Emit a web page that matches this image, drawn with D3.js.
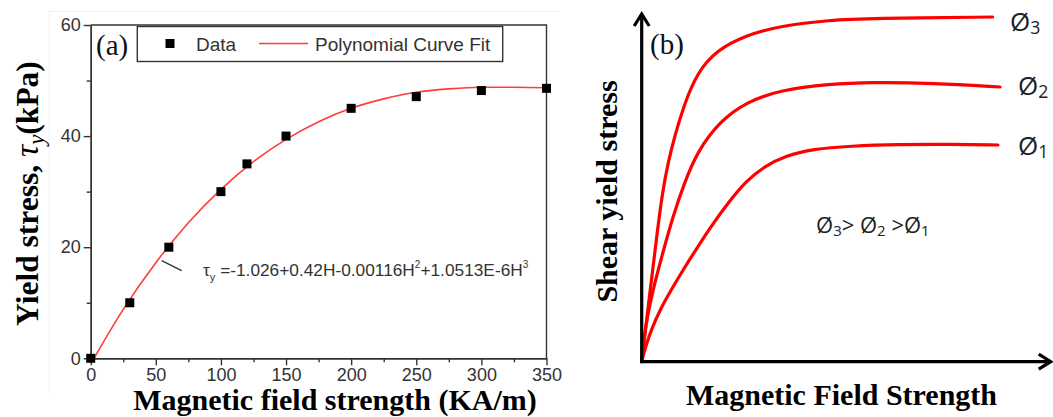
<!DOCTYPE html>
<html>
<head>
<meta charset="utf-8">
<script src="https://cdn.jsdelivr.net/npm/d3@7"></script>
<style>
  html, body { margin: 0; padding: 0; background: #fff; }
  svg { display: block; }
</style>
</head>
<body>
<div id="chart"></div>
<script>
// (a) measured yield stress vs magnetic field + polynomial fit
// (b) schematic: shear yield stress vs field for three volume fractions

const fieldData  = [0, 30, 60, 100, 120, 150, 200, 250, 300, 350];
const stressData = [0, 10, 20, 30, 35, 40, 45, 47.1, 48.2, 48.6];

// fit curve
const fitField  = [2.5, 25, 50, 75, 100, 125, 150, 175, 200, 225, 250, 275, 300, 325, 350];
const fitStress = [0, 8.8, 17.2, 24.4, 30.4, 35.4, 39.4, 42.6, 45.0, 46.7, 47.9, 48.5, 48.8, 48.8, 48.7];

const xTicks      = [0, 50, 100, 150, 200, 250, 300, 350];
const xMinorTicks = [25, 75, 125, 175, 225, 275, 325];
const yTicks      = [0, 20, 40, 60];
const yMinorTicks = [10, 30, 50];

// (b) sketch curves, arbitrary units 0..100
const phi1X = [0, 1.05, 2.51, 4.46, 6.90, 10.07, 13.49, 17.15, 21.05, 25.44, 30.07, 34.95, 41.78, 50.8, 63.0, 75.2, 86.9];
const phi1Y = [0, 4.79, 9.66, 14.83, 19.99, 26.30, 32.61, 39.20, 45.51, 51.82, 56.12, 58.99, 61.00, 61.86, 62.29, 62.35, 62.15];
const phi2X = [0, 0.56, 1.41, 2.76, 4.46, 7.71, 10.32, 13.49, 19.10, 25.61, 33.71, 45.93, 55.68, 71.05, 87.39];
const phi2Y = [0, 6.80, 13.11, 20.56, 28.31, 42.07, 50.96, 60.14, 69.03, 74.48, 77.92, 79.64, 80.13, 79.93, 78.78];
const phi3X = [0, 1.90, 3.61, 5.07, 6.41, 8.12, 10.32, 13.49, 18.29, 25.61, 33.71, 45.93, 55.68, 85.6];
const phi3Y = [0, 18.84, 35.47, 48.67, 56.98, 65.01, 73.62, 82.79, 89.39, 93.69, 96.27, 97.99, 98.48, 98.85];

const W = 1053, H = 417;
const AX = '#333';
const RED_A = '#ff3b3b';
const RED_B = '#ff0000';
const SANS = 'Liberation Sans, Arial, sans-serif';
const SERIF = 'Liberation Serif, Times New Roman, serif';

const svg = d3.select('#chart').append('svg')
  .attr('width', W).attr('height', H);

// ── panel (a) ───────────────────────────────────────────────────────────────
const xA = d3.scaleLinear().domain([0, 350]).range([90.7, 546.5]);
const yA = d3.scaleLinear().domain([0, 60]).range([358.3, 25]);

const gA = svg.append('g');

// faint frame of the original figure
gA.append('path')
  .attr('d', 'M49,394 L49,11.5 L560,11.5')
  .attr('fill', 'none').attr('stroke', '#f1f1f1').attr('stroke-width', 1);

function styleAxis(ax) {
  ax.select('.domain').attr('stroke', AX).attr('stroke-width', 1.4);
  ax.selectAll('line').attr('stroke', AX).attr('stroke-width', 1.4);
  ax.selectAll('text').attr('fill', AX).attr('font-size', 18).attr('font-family', SANS);
}

gA.append('g').attr('transform', `translate(0,${yA(0)})`)
  .call(d3.axisBottom(xA).tickValues(xMinorTicks).tickSize(4).tickFormat('').tickSizeOuter(0))
  .call(styleAxis);
gA.append('g').attr('transform', `translate(0,${yA(0)})`)
  .call(d3.axisBottom(xA).tickValues(xTicks).tickSize(7).tickPadding(3).tickSizeOuter(0))
  .call(styleAxis);
gA.append('g').attr('transform', `translate(${xA(0)},0)`)
  .call(d3.axisLeft(yA).tickValues(yMinorTicks).tickSize(4).tickFormat('').tickSizeOuter(0))
  .call(styleAxis);
gA.append('g').attr('transform', `translate(${xA(0)},0)`)
  .call(d3.axisLeft(yA).tickValues(yTicks).tickSize(7).tickPadding(3).tickSizeOuter(0))
  .call(styleAxis);

// top + right frame
gA.append('path')
  .attr('d', `M${xA(0)},${yA(60)} H${xA(350)} V${yA(0)}`)
  .attr('fill', 'none').attr('stroke', AX).attr('stroke-width', 1.4);

// fit curve
const fitPts = fitField.map((h, i) => [h, fitStress[i]]);
gA.append('path')
  .attr('d', d3.line().x(d => xA(d[0])).y(d => yA(d[1])).curve(d3.curveMonotoneX)(fitPts))
  .attr('fill', 'none').attr('stroke', RED_A).attr('stroke-width', 1.6);

// data squares
const sq = 9;
gA.selectAll('.pt')
  .data(fieldData.map((h, i) => [h, stressData[i]]))
  .join('rect')
  .attr('class', 'pt')
  .attr('x', d => xA(d[0]) - sq / 2).attr('y', d => yA(d[1]) - sq / 2)
  .attr('width', sq).attr('height', sq)
  .attr('fill', '#000');

// legend
gA.append('rect')
  .attr('x', 137.3).attr('y', 26.5).attr('width', 365.4).attr('height', 35)
  .attr('fill', '#fff').attr('stroke', AX).attr('stroke-width', 1.4);
gA.append('rect')
  .attr('x', 170 - sq / 2).attr('y', 43.5 - sq / 2).attr('width', sq).attr('height', sq)
  .attr('fill', '#000');
gA.append('text').attr('x', 196).attr('y', 50.5)
  .attr('font-family', SANS).attr('font-size', 19).attr('fill', AX).text('Data');
gA.append('line').attr('x1', 259).attr('x2', 308).attr('y1', 43.5).attr('y2', 43.5)
  .attr('stroke', RED_A).attr('stroke-width', 1.6);
gA.append('text').attr('x', 315).attr('y', 50.5)
  .attr('font-family', SANS).attr('font-size', 19).attr('fill', AX).text('Polynomial Curve Fit');

gA.append('text').attr('x', 96).attr('y', 55)
  .attr('font-family', SERIF).attr('font-size', 29).attr('fill', '#111').text('(a)');

// equation annotation
gA.append('line').attr('x1', 161.7).attr('y1', 260.7).attr('x2', 181.7).attr('y2', 270.7)
  .attr('stroke', AX).attr('stroke-width', 1.4);
const eq = gA.append('text').attr('x', 203).attr('y', 276)
  .attr('font-family', SANS).attr('font-size', 17.3).attr('fill', AX);
eq.append('tspan').text('τ');
eq.append('tspan').attr('font-size', 11).attr('dy', 5).text('y');
eq.append('tspan').attr('dy', -5).text(' =-1.026+0.42H-0.00116H');
eq.append('tspan').attr('font-size', 10).attr('dy', -8).text('2');
eq.append('tspan').attr('dy', 8).text('+1.0513E-6H');
eq.append('tspan').attr('font-size', 10).attr('dy', -8).text('3');

// axis titles
gA.append('text')
  .attr('x', 335).attr('y', 410)
  .attr('text-anchor', 'middle')
  .attr('font-family', SERIF).attr('font-weight', 'bold').attr('font-size', 30).attr('fill', '#000')
  .text('Magnetic field strength (KA/m)');

const yl = gA.append('text')
  .attr('transform', 'translate(38,193.5) rotate(-90)')
  .attr('text-anchor', 'middle')
  .attr('font-family', SERIF).attr('font-weight', 'bold').attr('font-size', 31.5).attr('fill', '#000');
yl.append('tspan').text('Yield stress, ');
yl.append('tspan').attr('font-style', 'italic').attr('font-weight', 'normal').attr('font-size', 34).text('τ');
yl.append('tspan').attr('font-style', 'italic').attr('font-weight', 'normal')
  .attr('font-size', 23).attr('dy', 6).text('y');
yl.append('tspan').attr('dy', -6).text('(kPa)');

// ── panel (b) ───────────────────────────────────────────────────────────────
const xB = d3.scaleLinear().domain([0, 100]).range([641.7, 1051.7]);
const yB = d3.scaleLinear().domain([0, 100]).range([361.7, 13]);

const gB = svg.append('g');

const curveB = d3.line().x(d => xB(d[0])).y(d => yB(d[1])).curve(d3.curveBasis);
[[phi1X, phi1Y], [phi2X, phi2Y], [phi3X, phi3Y]].forEach(([xs, ys]) => {
  gB.append('path')
    .attr('d', curveB(xs.map((v, i) => [v, ys[i]])))
    .attr('fill', 'none').attr('stroke', RED_B).attr('stroke-width', 3.2)
    .attr('stroke-linecap', 'round');
});

// axes with open arrow heads
const x0 = xB(0), y0 = yB(0), xEnd = xB(100), yEnd = yB(100);
gB.append('path')
  .attr('d', `M${x0},${y0 + 1.5} V${yEnd + 1} M${x0 - 1.5},${y0} H${xEnd - 1}`)
  .attr('fill', 'none').attr('stroke', '#000').attr('stroke-width', 3.2);
gB.append('path')
  .attr('d', `M${x0 - 7.5},${yEnd + 13} L${x0},${yEnd + 1} L${x0 + 7.5},${yEnd + 13}` +
             `M${xEnd - 13},${y0 - 7.5} L${xEnd - 1},${y0} L${xEnd - 13},${y0 + 7.5}`)
  .attr('fill', 'none').attr('stroke', '#000').attr('stroke-width', 3.2)
  .attr('stroke-linejoin', 'miter');

gB.append('text').attr('x', 650).attr('y', 54)
  .attr('font-family', SERIF).attr('font-size', 29).attr('fill', '#111').text('(b)');

const PHI_FONT = 'Open Sans, Noto Sans, sans-serif';
function phiLabel(x, y, sub, size) {
  const t = gB.append('text').attr('x', x).attr('y', y)
    .attr('font-family', PHI_FONT).attr('font-size', size).attr('fill', '#222');
  t.append('tspan').text('Ø');
  t.append('tspan').attr('font-size', size * 0.68).attr('dy', size * 0.12).text(sub);
  return t;
}
phiLabel(1010, 31, '3', 26);
phiLabel(1018, 95, '2', 26);
phiLabel(1018, 155, '1', 26);

const rel = gB.append('text').attr('x', 816).attr('y', 233)
  .attr('font-family', PHI_FONT).attr('font-size', 22).attr('fill', '#222');
rel.append('tspan').text('Ø');
rel.append('tspan').attr('font-size', 15).attr('dy', 3).text('3');
rel.append('tspan').attr('dy', -3).text('> Ø');
rel.append('tspan').attr('font-size', 15).attr('dy', 3).text('2');
rel.append('tspan').attr('dy', -3).text(' >Ø');
rel.append('tspan').attr('font-size', 15).attr('dy', 3).text('1');

gB.append('text')
  .attr('x', 841.5).attr('y', 405)
  .attr('text-anchor', 'middle')
  .attr('font-family', SERIF).attr('font-weight', 'bold').attr('font-size', 30).attr('fill', '#000')
  .text('Magnetic Field Strength');

gB.append('text')
  .attr('transform', 'translate(617,191.5) rotate(-90)')
  .attr('text-anchor', 'middle')
  .attr('font-family', SERIF).attr('font-weight', 'bold').attr('font-size', 30).attr('fill', '#000')
  .text('Shear yield stress');
</script>
</body>
</html>
